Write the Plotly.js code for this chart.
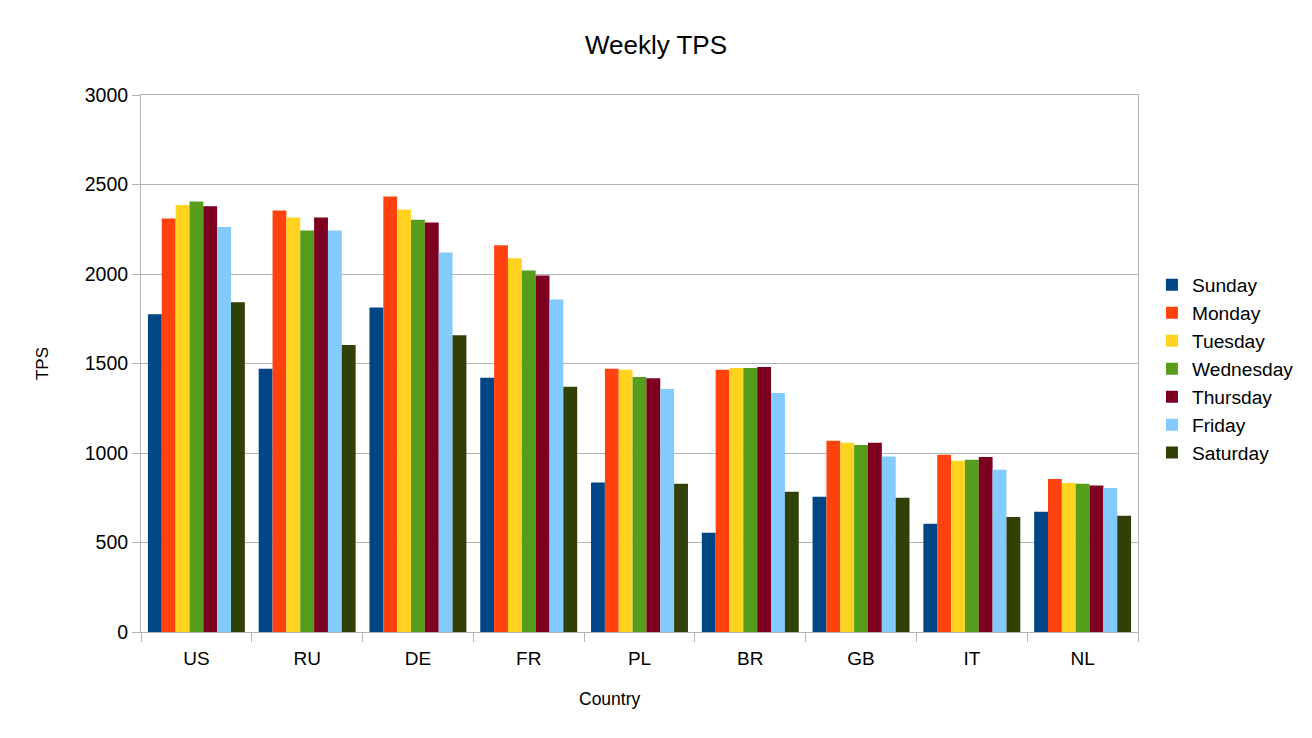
<!DOCTYPE html>
<html>
<head>
<meta charset="utf-8">
<script src="https://cdn.plot.ly/plotly-3.0.1.min.js"></script>
<style>
  html, body { margin: 0; padding: 0; background: #fff; }
  #chart { width: 1312px; height: 738px; }
</style>
</head>
<body>
<div id="chart"></div>
<script>
const countries = ['US', 'RU', 'DE', 'FR', 'PL', 'BR', 'GB', 'IT', 'NL'];

const sunday    = [1775, 1470, 1813, 1420, 835, 555, 755, 605, 672];
const monday    = [2310, 2355, 2433, 2160, 1470, 1465, 1068, 990, 855];
const tuesday   = [2385, 2315, 2360, 2088, 1465, 1475, 1057, 957, 833];
const wednesday = [2405, 2243, 2303, 2020, 1425, 1475, 1045, 962, 828];
const thursday  = [2378, 2315, 2288, 1992, 1418, 1480, 1057, 978, 818];
const friday    = [2262, 2243, 2120, 1858, 1357, 1335, 980, 907, 805];
const saturday  = [1842, 1603, 1658, 1370, 828, 783, 750, 643, 650];

const days = ['Sunday', 'Monday', 'Tuesday', 'Wednesday', 'Thursday', 'Friday', 'Saturday'];
const series = [sunday, monday, tuesday, wednesday, thursday, friday, saturday];
const colors = ['#004586', '#ff420e', '#ffd320', '#579d1c', '#7e0021', '#83caff', '#314004'];

const traces = days.map((d, i) => ({
    type: 'bar',
    name: d,
    x: countries,
    y: series[i],
    marker: { color: colors[i], line: { width: 0 } },
    hoverinfo: 'x+y+name'
}));

const font = 'Liberation Sans, Arial, sans-serif';

const layout = {
    width: 1312,
    height: 738,
    paper_bgcolor: '#ffffff',
    plot_bgcolor: '#ffffff',
    margin: { l: 141, r: 174, t: 95, b: 106 },
    font: { family: font, color: '#000000' },
    title: {
        text: 'Weekly TPS',
        font: { family: font, size: 26, color: '#000000' },
        x: 0.5, xref: 'container', xanchor: 'center',
        y: 1 - 45 / 738, yanchor: 'middle'
    },
    barmode: 'group',
    bargap: 0.125,
    bargroupgap: 0,
    xaxis: {
        type: 'category',
        tickfont: { family: font, size: 19 },
        ticklabelstandoff: 9,
        showline: true, linecolor: '#b3b3b3', linewidth: 1, mirror: true,
        ticks: 'outside', tickson: 'boundaries', ticklen: 9, tickcolor: '#b3b3b3',
        showgrid: false, zeroline: false, automargin: false
    },
    yaxis: {
        title: { text: 'TPS', font: { family: font, size: 17 }, standoff: 31 },
        range: [0, 3000],
        dtick: 500,
        tickfont: { family: font, size: 19.5 },
        showline: true, linecolor: '#b3b3b3', linewidth: 1, mirror: true,
        ticks: 'outside', ticklen: 8, tickcolor: '#b3b3b3',
        showgrid: true, gridcolor: '#b3b3b3', gridwidth: 1,
        zeroline: false, automargin: false
    },
    // x axis title sits left of the plot centre in the original, so it is an annotation
    annotations: [{
        text: 'Country',
        xref: 'paper', yref: 'paper',
        x: 0.4704, y: -0.1248,
        xanchor: 'center', yanchor: 'middle',
        showarrow: false,
        font: { family: font, size: 17.5, color: '#000000' }
    }],
    legend: {
        x: 1.014, xanchor: 'left',
        y: 0.49, yanchor: 'middle',
        font: { family: font, size: 19.2 },
        itemwidth: 30,
        tracegroupgap: 0,
        bgcolor: 'rgba(0,0,0,0)'
    },
    showlegend: true
};

Plotly.newPlot('chart', traces, layout, { displayModeBar: false, staticPlot: true });
</script>
</body>
</html>
